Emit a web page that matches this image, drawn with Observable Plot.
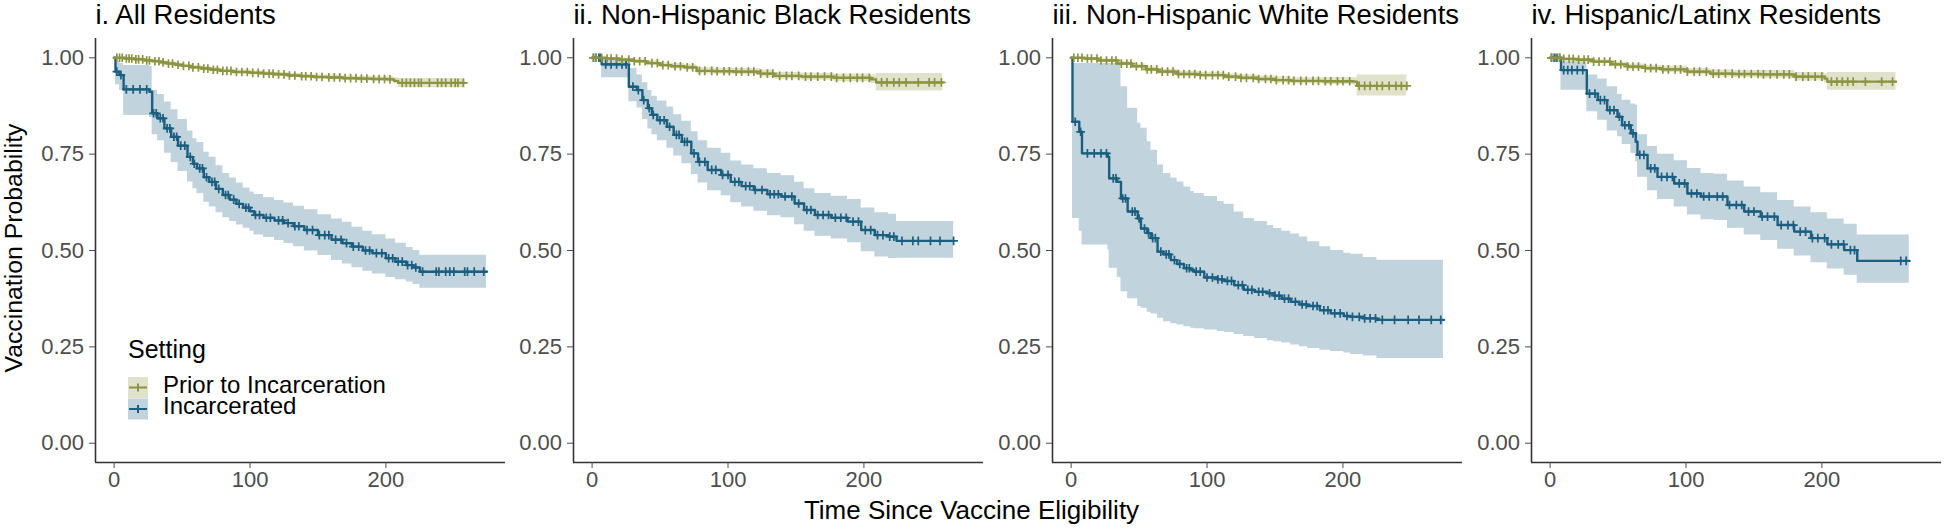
<!DOCTYPE html>
<html><head><meta charset="utf-8">
<script src="https://cdn.jsdelivr.net/npm/d3@7"></script>
<script src="https://cdn.jsdelivr.net/npm/@observablehq/plot@0.6"></script>
<style>
html,body{margin:0;padding:0;background:#fff;}
body{width:1944px;height:528px;overflow:hidden;position:relative;font-family:'Liberation Sans',Arial,sans-serif;}
.panel{position:absolute;top:0;width:515px;height:528px;}
.lg{position:absolute;color:#000;white-space:nowrap;}
</style></head><body>
<div id="chart"></div>
<script>
// ---------- data ----------
const panelTitles = ["i. All Residents", "ii. Non-Hispanic Black Residents", "iii. Non-Hispanic White Residents", "iv. Hispanic/Latinx Residents"];
const settings = ["Prior to Incarceration", "Incarcerated"];
const settingColors = ["#8C9440", "#1A5E80"];
const xTicks = [0, 100, 200];
const yTicks = [0, 0.25, 0.5, 0.75, 1];
const xDomain = [-13.7, 288];
const yDomain = [-0.05, 1.05];
const xLabel = "Time Since Vaccine Eligibility";
const yLabel = "Vaccination Probability";
const legendTitle = "Setting";

// rows: [time, estimate, lower CI, upper CI]
const allPrior = [[0,1,1,1],[8,0.998,0.996,1],[15,0.996,0.993,0.999],[22,0.993,0.990,0.996],[28,0.991,0.987,0.995],[34,0.988,0.984,0.992],[39,0.985,0.981,0.989],[45,0.982,0.978,0.986],[50,0.979,0.975,0.983],[57,0.975,0.971,0.980],[64,0.972,0.967,0.977],[71,0.969,0.964,0.974],[78,0.966,0.961,0.971],[88,0.963,0.958,0.968],[100,0.961,0.956,0.966],[110,0.959,0.954,0.964],[118,0.957,0.952,0.962],[128,0.954,0.949,0.959],[137,0.952,0.947,0.957],[147,0.950,0.945,0.955],[157,0.949,0.943,0.955],[168,0.947,0.941,0.953],[179,0.946,0.940,0.952],[190,0.945,0.939,0.951],[201,0.944,0.937,0.951],[206,0.940,0.932,0.948],[209,0.935,0.923,0.946],[258,0.935,0.923,0.946]];
const allInc = [[0,1,1,1],[1,0.964,0.93,0.99],[4,0.955,0.915,0.985],[7,0.918,0.85,0.98],[26,0.912,0.845,0.978],[28,0.856,0.80,0.915],[32,0.843,0.785,0.905],[37,0.817,0.752,0.885],[42,0.795,0.728,0.865],[47,0.772,0.705,0.840],[54,0.743,0.678,0.810],[58,0.725,0.660,0.790],[61,0.713,0.648,0.780],[66,0.690,0.625,0.755],[70,0.678,0.613,0.742],[75,0.660,0.598,0.720],[80,0.644,0.585,0.700],[85,0.632,0.575,0.688],[90,0.621,0.566,0.675],[95,0.611,0.558,0.662],[100,0.602,0.550,0.652],[103,0.592,0.540,0.645],[110,0.585,0.534,0.637],[118,0.578,0.526,0.630],[125,0.571,0.518,0.623],[132,0.563,0.510,0.615],[140,0.553,0.499,0.606],[150,0.540,0.487,0.593],[160,0.528,0.474,0.582],[168,0.519,0.465,0.573],[175,0.510,0.455,0.560],[183,0.500,0.446,0.550],[190,0.493,0.439,0.541],[200,0.480,0.430,0.530],[207,0.471,0.424,0.519],[215,0.462,0.418,0.508],[220,0.456,0.412,0.500],[225,0.445,0.402,0.488],[274,0.445,0.402,0.488]];
const blackPrior = [[0,1,1,1],[10,0.998,0.995,1],[20,0.995,0.991,0.999],[31,0.991,0.986,0.996],[40,0.986,0.980,0.992],[50,0.981,0.975,0.987],[58,0.978,0.971,0.985],[68,0.975,0.968,0.982],[77,0.966,0.958,0.974],[90,0.965,0.957,0.973],[104,0.964,0.956,0.972],[124,0.959,0.950,0.968],[134,0.953,0.944,0.962],[154,0.951,0.942,0.960],[178,0.948,0.938,0.958],[205,0.944,0.933,0.955],[209,0.936,0.914,0.959],[258,0.936,0.914,0.959]];
const blackInc = [[0,1,1,1],[7,0.983,0.948,0.995],[27,0.925,0.886,0.972],[33,0.916,0.870,0.955],[37,0.890,0.840,0.935],[41,0.869,0.815,0.915],[44,0.852,0.800,0.900],[48,0.838,0.785,0.888],[55,0.821,0.765,0.872],[60,0.800,0.745,0.852],[66,0.782,0.725,0.835],[73,0.752,0.697,0.808],[78,0.730,0.675,0.785],[85,0.709,0.655,0.765],[95,0.696,0.642,0.752],[102,0.678,0.624,0.732],[110,0.667,0.613,0.722],[119,0.657,0.602,0.712],[129,0.646,0.590,0.700],[139,0.640,0.585,0.694],[149,0.622,0.567,0.677],[156,0.605,0.550,0.660],[164,0.592,0.537,0.648],[176,0.585,0.530,0.641],[188,0.575,0.520,0.632],[198,0.553,0.497,0.610],[208,0.540,0.483,0.598],[218,0.536,0.479,0.594],[224,0.525,0.480,0.575],[266,0.525,0.480,0.575]];
const whitePrior = [[0,1,1,1],[10,0.998,0.995,1],[20,0.993,0.989,0.997],[34,0.985,0.980,0.990],[45,0.978,0.972,0.984],[55,0.970,0.964,0.976],[64,0.964,0.958,0.970],[78,0.958,0.951,0.965],[95,0.955,0.948,0.962],[113,0.951,0.944,0.958],[125,0.948,0.941,0.955],[137,0.945,0.937,0.953],[150,0.942,0.934,0.950],[162,0.940,0.932,0.948],[186,0.939,0.930,0.948],[208,0.938,0.928,0.948],[210.5,0.927,0.901,0.955],[247,0.927,0.901,0.955]];
const whiteInc = [[0,1,1,1],[1,0.834,0.583,0.985],[6,0.808,0.55,0.985],[8,0.752,0.514,0.985],[27,0.743,0.501,0.985],[28,0.687,0.454,0.985],[34,0.678,0.43,0.985],[36.7,0.635,0.393,0.925],[41.6,0.601,0.375,0.869],[49,0.583,0.355,0.83],[51.4,0.557,0.35,0.817],[56,0.545,0.34,0.782],[58.8,0.532,0.335,0.76],[63.6,0.497,0.324,0.722],[68,0.49,0.315,0.70],[73.4,0.475,0.31,0.688],[78,0.465,0.307,0.678],[83,0.454,0.302,0.665],[88,0.449,0.298,0.653],[90.6,0.445,0.297,0.648],[98,0.43,0.294,0.64],[107.7,0.425,0.29,0.627],[112.6,0.421,0.287,0.62],[120,0.41,0.282,0.6],[127,0.398,0.277,0.583],[135,0.393,0.272,0.575],[144.4,0.389,0.266,0.565],[149,0.383,0.263,0.557],[155,0.375,0.26,0.55],[161.6,0.367,0.255,0.543],[168,0.36,0.25,0.535],[174,0.356,0.246,0.523],[183,0.345,0.241,0.51],[191,0.337,0.238,0.5],[200.7,0.33,0.234,0.493],[205.6,0.328,0.23,0.49],[215,0.324,0.226,0.482],[225,0.32,0.22,0.475],[274,0.32,0.22,0.475]];
const latinxPrior = [[0,1,1,1],[10,0.997,0.994,1],[20,0.995,0.991,0.999],[32,0.990,0.985,0.995],[45,0.983,0.977,0.989],[57,0.977,0.970,0.984],[70,0.973,0.966,0.980],[82,0.970,0.962,0.978],[101,0.964,0.956,0.972],[118,0.959,0.950,0.968],[135,0.958,0.949,0.967],[155,0.957,0.947,0.967],[180,0.951,0.940,0.962],[202,0.946,0.934,0.958],[204,0.938,0.916,0.962],[254.5,0.938,0.916,0.962]];
const latinxInc = [[0,1,1,1],[8,0.968,0.916,0.99],[27,0.907,0.86,0.955],[35,0.89,0.838,0.945],[42,0.864,0.81,0.925],[49.6,0.847,0.795,0.905],[53,0.825,0.775,0.89],[59.4,0.804,0.752,0.88],[63,0.782,0.73,0.877],[64.3,0.748,0.69,0.80],[71.7,0.713,0.655,0.77],[79,0.691,0.632,0.75],[91.3,0.674,0.613,0.733],[101,0.648,0.592,0.713],[111,0.64,0.58,0.7],[120.7,0.64,0.578,0.698],[130.5,0.618,0.558,0.68],[142.8,0.601,0.54,0.665],[155,0.588,0.526,0.65],[167.4,0.566,0.503,0.63],[179.6,0.549,0.486,0.613],[192,0.532,0.468,0.598],[204,0.516,0.452,0.582],[216.4,0.501,0.436,0.568],[226,0.473,0.415,0.54],[264.3,0.473,0.415,0.54]];

// censoring times
const allPriorCens = [2,4,6,9,11,13,16,18,21,24,26,30,33,36,40,43,47,51,55,58,62,66,69,73,76,80,83,86,90,94,98,102,106,110,114,117,121,125,129,133,138,141,145,149,153,158,162,166,170,174,178,182,186,191,195,199,203,212,215,218,221,224,226,232,238,241,244,248,251,253,257];
const allIncCens = [2,5,9,14,19,24,29,31,34,36,39,41,44,46,49,52,56,59,63,65,68,72,74,77,82,84,88,92,97,99,104,107,112,115,121,124,128,133,136,142,146,151,155,158,163,167,171,176,180,185,188,193,197,202,205,209,212,216,219,222,227,237,239,244,247,250,258,260,265,272];
const blackPriorCens = [1,3,7,11,14,18,22,27,31,35,39,44,48,52,56,61,65,70,74,79,83,88,92,97,101,106,110,115,119,124,129,133,138,143,147,152,157,161,166,171,176,180,185,190,195,199,204,213,217,222,226,231,240,248,252,257];
const blackIncCens = [1,3,5,6,10,14,18,22,25,30,34,38,42,45,50,53,57,62,64,68,70,75,79,83,88,91,96,100,105,108,113,116,120,125,131,134,137,142,147,152,158,161,166,170,174,179,183,187,192,196,201,205,210,214,219,222,228,236,240,249,256,266];
const whitePriorCens = [2,5,8,12,15,19,22,26,30,33,37,41,44,48,52,56,59,63,67,71,75,79,83,87,91,95,99,104,108,112,116,121,125,129,134,138,143,147,151,156,160,164,169,173,178,182,187,191,196,200,205,212,216,220,225,229,234,239,243,247];
const whiteIncCens = [3,7,12,17,22,26,31,33,38,40,45,47,50,54,57,60,62,66,70,72,76,80,85,87,92,95,100,104,108,111,115,118,123,126,130,133,138,141,146,150,153,157,160,165,170,173,178,181,186,189,194,198,203,207,212,216,220,224,229,238,248,256,265,272];
const latinxPriorCens = [1,4,7,10,14,17,21,25,28,32,36,40,44,48,52,57,61,65,70,74,78,83,87,92,96,101,106,110,115,120,124,129,134,139,143,148,153,157,162,167,172,176,181,186,190,195,200,207,211,215,219,223,232,244,252];
const latinxIncCens = [1,3,5,7,10,13,16,20,24,29,33,37,40,44,47,51,55,58,61,66,69,74,77,82,86,90,95,99,104,108,113,117,123,127,132,137,141,146,150,156,160,165,170,175,179,184,188,193,197,202,207,212,216,221,224,258,262];

const panels = [
  {title: panelTitles[0], prior: allPrior, inc: allInc, priorCens: allPriorCens, incCens: allIncCens},
  {title: panelTitles[1], prior: blackPrior, inc: blackInc, priorCens: blackPriorCens, incCens: blackIncCens},
  {title: panelTitles[2], prior: whitePrior, inc: whiteInc, priorCens: whitePriorCens, incCens: whiteIncCens},
  {title: panelTitles[3], prior: latinxPrior, inc: latinxInc, priorCens: latinxPriorCens, incCens: latinxIncCens}
];

// ---------- layout ----------
const panelLeft = [0, 478.3, 957.3, 1436];
const W = 515, H = 528, ML = 95, MR = 10, MT = 38, MB = 66;
const FONT = "'Liberation Sans', Arial, Helvetica, sans-serif";

function toRows(arr) { return arr.map(([t, est, lo, hi]) => ({t, est, lo, hi})); }
function stepAt(arr, t) { let v = arr[0][1]; for (const r of arr) if (r[0] <= t) v = r[1]; return v; }
function censRows(arr, times) { return times.map(t => ({t, est: stepAt(arr, t)})); }

const chart = document.getElementById("chart");

panels.forEach((p, i) => {
  const series = [
    {rows: toRows(p.prior), cens: censRows(p.prior, p.priorCens), color: settingColors[0]},
    {rows: toRows(p.inc), cens: censRows(p.inc, p.incCens), color: settingColors[1]}
  ];
  const marks = [];
  for (const s of series) {
    marks.push(Plot.areaY(s.rows, {x: "t", y1: "lo", y2: "hi", curve: "step-after", fill: s.color, fillOpacity: 0.27}));
  }
  for (const s of [series[1], series[0]]) {
    marks.push(Plot.line(s.rows, {x: "t", y: "est", curve: "step-after", stroke: s.color, strokeWidth: 2.4}));
    marks.push(Plot.dot(s.cens, {x: "t", y: "est", symbol: "plus", r: 2.9, stroke: s.color, strokeWidth: 1.7}));
  }
  marks.push(Plot.ruleX([xDomain[0]], {stroke: "#333", strokeWidth: 1.6}));
  marks.push(Plot.ruleY([yDomain[0]], {stroke: "#333", strokeWidth: 1.6}));
  marks.push(Plot.axisX({ticks: xTicks, tickSize: 6, tickPadding: 3, fontSize: 22, color: "#4d4d4d", label: null, tickFormat: d3.format("d")}));
  marks.push(Plot.axisY({ticks: yTicks, tickSize: 6, tickPadding: 5.5, fontSize: 22, color: "#4d4d4d", label: null, tickFormat: d3.format(".2f")}));
  marks.push(Plot.text([p.title], {text: d => d, frameAnchor: "top-left", textAnchor: "start", lineAnchor: "bottom", dy: -15, fontSize: 27.5, fill: "#000"}));
  if (i === 0) {
    marks.push(Plot.text([yLabel], {text: d => d, frameAnchor: "left", rotate: -90, textAnchor: "middle", lineAnchor: "middle", dx: -81, dy: -2.5, fontSize: 24.8, fill: "#000"}));
  }
  if (i === 1) {
    marks.push(Plot.text([xLabel], {text: d => d, frameAnchor: "bottom", textAnchor: "middle", lineAnchor: "bottom", dx: 193, dy: 56.5, fontSize: 26, fill: "#000"}));
  }
  const svg = Plot.plot({
    width: W, height: H,
    marginLeft: ML, marginRight: MR, marginTop: MT, marginBottom: MB,
    x: {domain: xDomain},
    y: {domain: yDomain},
    style: {fontFamily: FONT, background: "transparent", overflow: "visible", maxWidth: "none"},
    marks
  });
  const div = document.createElement("div");
  div.className = "panel";
  div.style.left = panelLeft[i] + "px";
  div.appendChild(svg);
  chart.appendChild(div);
});

// ---------- legend (ggplot-style, inside panel i) ----------
function addText(lines, left, baseline, size, lh) {
  const d = document.createElement("div");
  d.className = "lg";
  lines.forEach((txt, k) => {
    if (k) d.appendChild(document.createElement("br"));
    d.appendChild(document.createTextNode(txt));
  });
  d.style.fontFamily = FONT;
  d.style.fontSize = size + "px";
  d.style.lineHeight = lh + "px";
  d.style.left = left + "px";
  d.style.top = (baseline - ((lh - 1.117 * size) / 2 + 0.905 * size)) + "px";
  document.body.appendChild(d);
}
addText([legendTitle], 128, 358.3, 25, 25);
const ns = "http://www.w3.org/2000/svg";
const key = document.createElementNS(ns, "svg");
key.setAttribute("width", 21); key.setAttribute("height", 43);
key.style.position = "absolute"; key.style.left = "128px"; key.style.top = "377px";
settings.forEach((s, k) => {
  const y0 = k * 21.5;
  const r = document.createElementNS(ns, "rect");
  r.setAttribute("x", 0); r.setAttribute("y", y0); r.setAttribute("width", 20); r.setAttribute("height", 21);
  r.setAttribute("fill", settingColors[k]); r.setAttribute("fill-opacity", 0.27);
  key.appendChild(r);
  const l = document.createElementNS(ns, "path");
  l.setAttribute("d", `M1,${y0 + 10.5}H19M10,${y0 + 6.5}V${y0 + 14.5}`);
  l.setAttribute("stroke", settingColors[k]); l.setAttribute("stroke-width", 2); l.setAttribute("fill", "none");
  key.appendChild(l);
});
addText(settings, 163, 393.3, 24, 21);
document.body.appendChild(key);
</script>
</body></html>
